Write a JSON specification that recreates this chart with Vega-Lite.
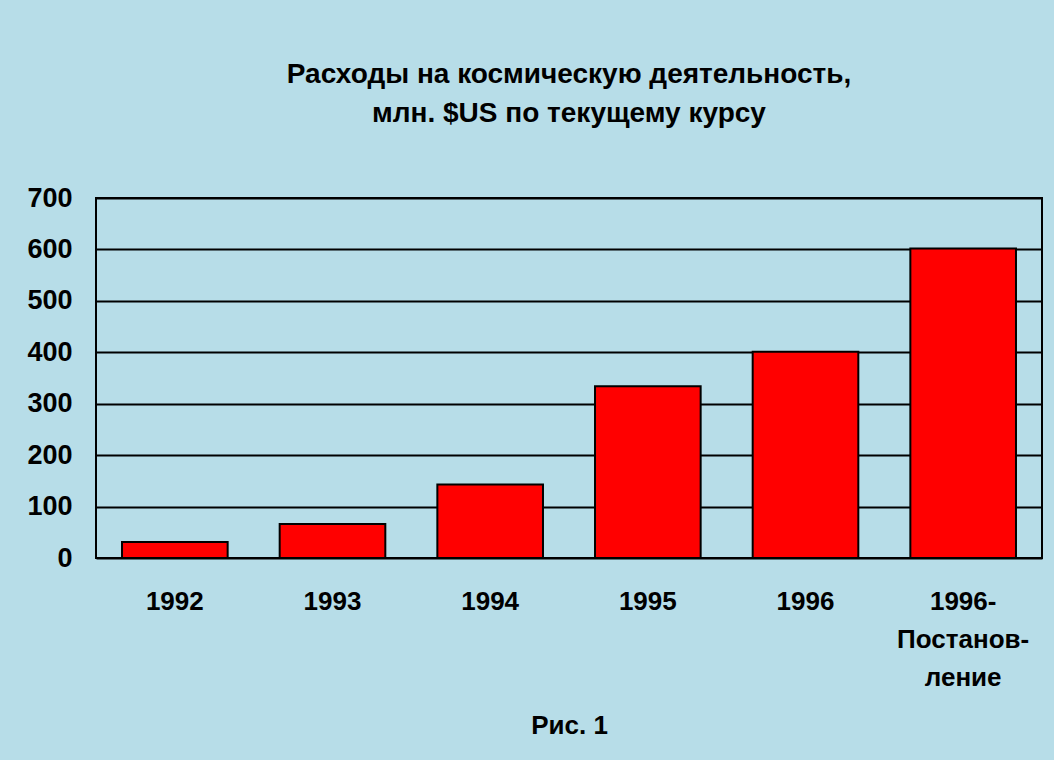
{
  "$schema": "https://vega.github.io/schema/vega-lite/v6.json",
  "width": 946,
  "height": 360,
  "autosize": {"type": "none"},
  "padding": {"left": 96, "top": 198, "right": 12, "bottom": 202},
  "background": "#b7dde8",
  "title": {
    "text": ["Расходы на космическую деятельность,", "млн. $US по текущему курсу"],
    "font": "Liberation Sans",
    "fontSize": 28,
    "fontWeight": "bold",
    "color": "#000000",
    "lineHeight": 39,
    "anchor": "middle",
    "offset": 56
  },
  "data": {
    "values": [
      {"year": "1992", "value": 31},
      {"year": "1993", "value": 66},
      {"year": "1994", "value": 143},
      {"year": "1995", "value": 334},
      {"year": "1996", "value": 401},
      {"year": "1996 - Постановление", "value": 602}
    ]
  },
  "mark": {"type": "bar", "color": "#ff0000", "stroke": "#000000", "strokeWidth": 2},
  "encoding": {
    "x": {
      "field": "year",
      "type": "nominal",
      "sort": null,
      "scale": {"paddingInner": 0.33, "paddingOuter": 0.165},
      "axis": {
        "title": "Рис. 1",
        "titleFont": "Liberation Sans",
        "titleFontSize": 26,
        "titleFontWeight": "bold",
        "titleColor": "#000000",
        "titlePadding": 22,
        "labelFont": "Liberation Sans",
        "labelFontSize": 26,
        "labelFontWeight": "bold",
        "labelColor": "#000000",
        "labelAngle": 0,
        "labelPadding": 30,
        "labelLineHeight": 38,
        "labelExpr": "datum.label == '1996 - Постановление' ? ['1996-', 'Постанов-', 'ление'] : datum.label",
        "ticks": false,
        "domain": false,
        "grid": false
      }
    },
    "y": {
      "field": "value",
      "type": "quantitative",
      "scale": {"domain": [0, 700]},
      "axis": {
        "title": null,
        "values": [0, 100, 200, 300, 400, 500, 600, 700],
        "labelFont": "Liberation Sans",
        "labelFontSize": 27,
        "labelFontWeight": "bold",
        "labelColor": "#000000",
        "labelPadding": 24,
        "ticks": false,
        "domain": false,
        "grid": true,
        "gridColor": "#000000",
        "gridWidth": 2,
        "gridOpacity": 1
      }
    }
  },
  "config": {"view": {"stroke": "#000000", "strokeWidth": 2}}
}
